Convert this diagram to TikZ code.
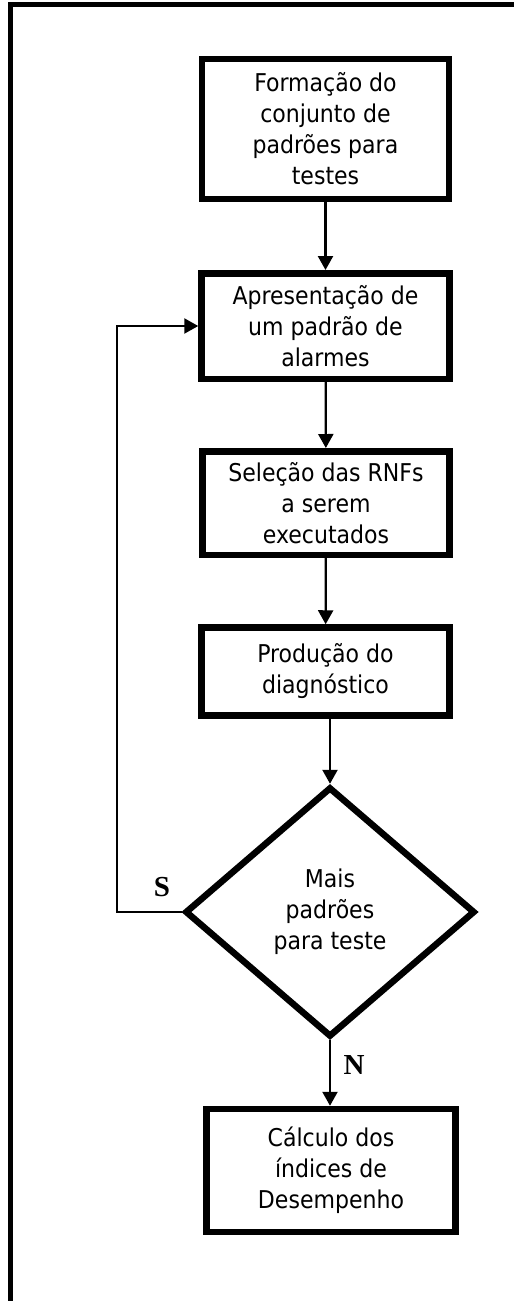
\documentclass[tikz,border=0pt]{standalone}
\usepackage{fontspec}
\setmainfont{DejaVu Sans Condensed}
\newfontfamily\labfont{Liberation Serif}
\usetikzlibrary{arrows.meta,shapes.geometric}
\begin{document}
\begin{tikzpicture}[x=1pt,y=-1pt,
  stepbox/.style={draw,line width=6.5pt,rectangle,inner sep=0pt,align=center,
    font=\fontsize{24.5}{31}\selectfont},
  decbox/.style={draw,line width=6.5pt,diamond,inner sep=0pt,align=center,
    minimum width=290pt,minimum height=250pt,font=\fontsize{24.5}{31}\selectfont},
  arr/.style={line width=2.3pt,-{Triangle[width=15pt,length=14pt]}},
  lab/.style={font=\labfont\bfseries\fontsize{29}{32}\selectfont,inner sep=0pt}]
\useasboundingbox (0,0) rectangle (514,1301);
\draw[line width=5.5pt] (10.7,1301) -- (10.7,4.5) -- (514,4.5);
\node[stepbox,minimum width=247pt,minimum height=140pt] (b1) at (325.5,129)
  {Formação do\\conjunto de\\padrões para\\testes};
\node[stepbox,minimum width=248pt,minimum height=105.5pt] (b2) at (325.5,326)
  {Apresentação de\\um padrão de\\alarmes};
\node[stepbox,minimum width=247pt,minimum height=103.5pt] (b3) at (326,503)
  {Seleção das RNFs\\a serem\\executados};
\node[stepbox,minimum width=248pt,minimum height=88pt] (b4) at (325.5,671.5)
  {Produção do\\diagnóstico};
\node[decbox] (dec) at (330,912) {Mais\\padrões\\para teste};
\node[stepbox,minimum width=249pt,minimum height=123pt] (b5) at (331,1170.5)
  {Cálculo dos\\índices de\\Desempenho};
\coordinate (lp) at (117,912);
\draw[arr] (b1) -- (b2);
\draw[arr] (b2) -- (b3);
\draw[arr] (b3) -- (b4);
\draw[arr] (b4.south -| dec.north) -- (dec.north);
\draw[arr] (dec.south) -- (dec.south |- b5.north);
\draw[arr] (dec.west) -- (lp) |- (b2.west);
\node[lab] (s) at (162,887) {S};
\node[lab] (n) at (354,1065) {N};
\end{tikzpicture}
\end{document}
